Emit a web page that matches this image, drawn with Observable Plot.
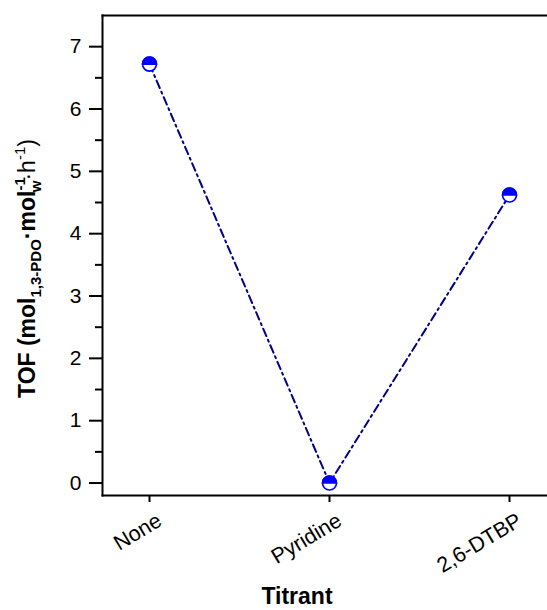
<!DOCTYPE html>
<html><head><meta charset="utf-8">
<script src="https://cdn.jsdelivr.net/npm/d3@7"></script>
<script src="https://cdn.jsdelivr.net/npm/@observablehq/plot@0.6"></script>
<style>body{margin:0;background:#fff}</style>
</head><body><div id="chart"></div>
<script>
const titrants = ["None", "Pyridine", "2,6-DTBP"];
const tof = [6.72, 0.0, 4.62];
const yMajorTicks = [0, 1, 2, 3, 4, 5, 6, 7];
const yMinorTicks = [0.5, 1.5, 2.5, 3.5, 4.5, 5.5, 6.5];
const xTitle = "Titrant";

const data = titrants.map((t, i) => ({titrant: t, tof: tof[i]}));

const halfTop = {
  draw(ctx, size) {
    const r = Math.sqrt(size / Math.PI);
    ctx.moveTo(-r, 0);
    ctx.arc(0, 0, r, Math.PI, 2 * Math.PI);
    ctx.closePath();
  }
};

const font = "'Liberation Sans', Arial, sans-serif";

const chart = Plot.plot({
  width: 547,
  height: 610,
  marginLeft: 102,
  marginRight: 0,
  marginTop: 15,
  marginBottom: 115,
  style: {fontFamily: font, fontSize: "20px", color: "#000", background: "#fff"},
  x: {type: "point", domain: titrants, range: [148, 509], padding: 0, axis: null},
  y: {domain: [-0.2, 7.5], axis: null},
  marks: [
    Plot.axisY({ticks: yMajorTicks, tickSize: 13, strokeWidth: 2, text: null, label: null}),
    Plot.axisY({ticks: yMinorTicks, tickSize: 7, strokeWidth: 2, text: null, label: null}),
    Plot.text(yMajorTicks, {y: d => d, frameAnchor: "left", dx: -21, textAnchor: "end",
      fontSize: 21, fill: "#000"}),
    Plot.axisX({tickSize: 7, strokeWidth: 2, text: null, label: null}),
    Plot.text(titrants, {x: d => d, frameAnchor: "bottom", dy: 16, dx: 6, rotate: -31,
      textAnchor: "end", lineAnchor: "top", fontSize: 21.5, fill: "#000"}),
    Plot.frame({anchor: "left", strokeWidth: 2}),
    Plot.frame({anchor: "bottom", strokeWidth: 2}),
    Plot.frame({anchor: "top", strokeWidth: 2}),
    Plot.line(data, {x: "titrant", y: "tof", stroke: "#00008b", strokeWidth: 2,
      strokeDasharray: "8,4,2,4"}),
    Plot.dot(data, {x: "titrant", y: "tof", r: 7, fill: "#fff", stroke: "#0000ff", strokeWidth: 1.6}),
    Plot.dot(data, {x: "titrant", y: "tof", r: 7, symbol: halfTop, fill: "#0000ff", stroke: "#0000ff", strokeWidth: 1.6})
  ]
});

document.getElementById("chart").appendChild(chart);

const svg = d3.select(chart);
svg.append("text")
  .attr("x", 297).attr("y", 604)
  .attr("text-anchor", "middle")
  .attr("font-family", font).attr("font-weight", "bold").attr("font-size", 23)
  .text(xTitle);

const yt = svg.append("text")
  .attr("transform", "translate(35,398) rotate(-90)")
  .attr("text-anchor", "start")
  .attr("font-family", font).attr("font-weight", "bold").attr("font-size", 23);
yt.append("tspan").text("TOF (mol");
yt.append("tspan").attr("font-size", 15).attr("dy", 6).text("1,3-PDO");
yt.append("tspan").attr("dy", -6).text("·mol");
yt.append("tspan").attr("font-size", 15).attr("dy", -10).text("-1");
yt.append("tspan").attr("font-size", 15).attr("dx", -15).attr("dy", 16).text("w");
yt.append("tspan").attr("font-weight", "normal").attr("dy", -6).text("·h");
yt.append("tspan").attr("font-weight", "normal").attr("font-size", 15).attr("dy", -10).text("-1");
yt.append("tspan").attr("font-weight", "normal").attr("dy", 10).text(")");
</script>
</body></html>
